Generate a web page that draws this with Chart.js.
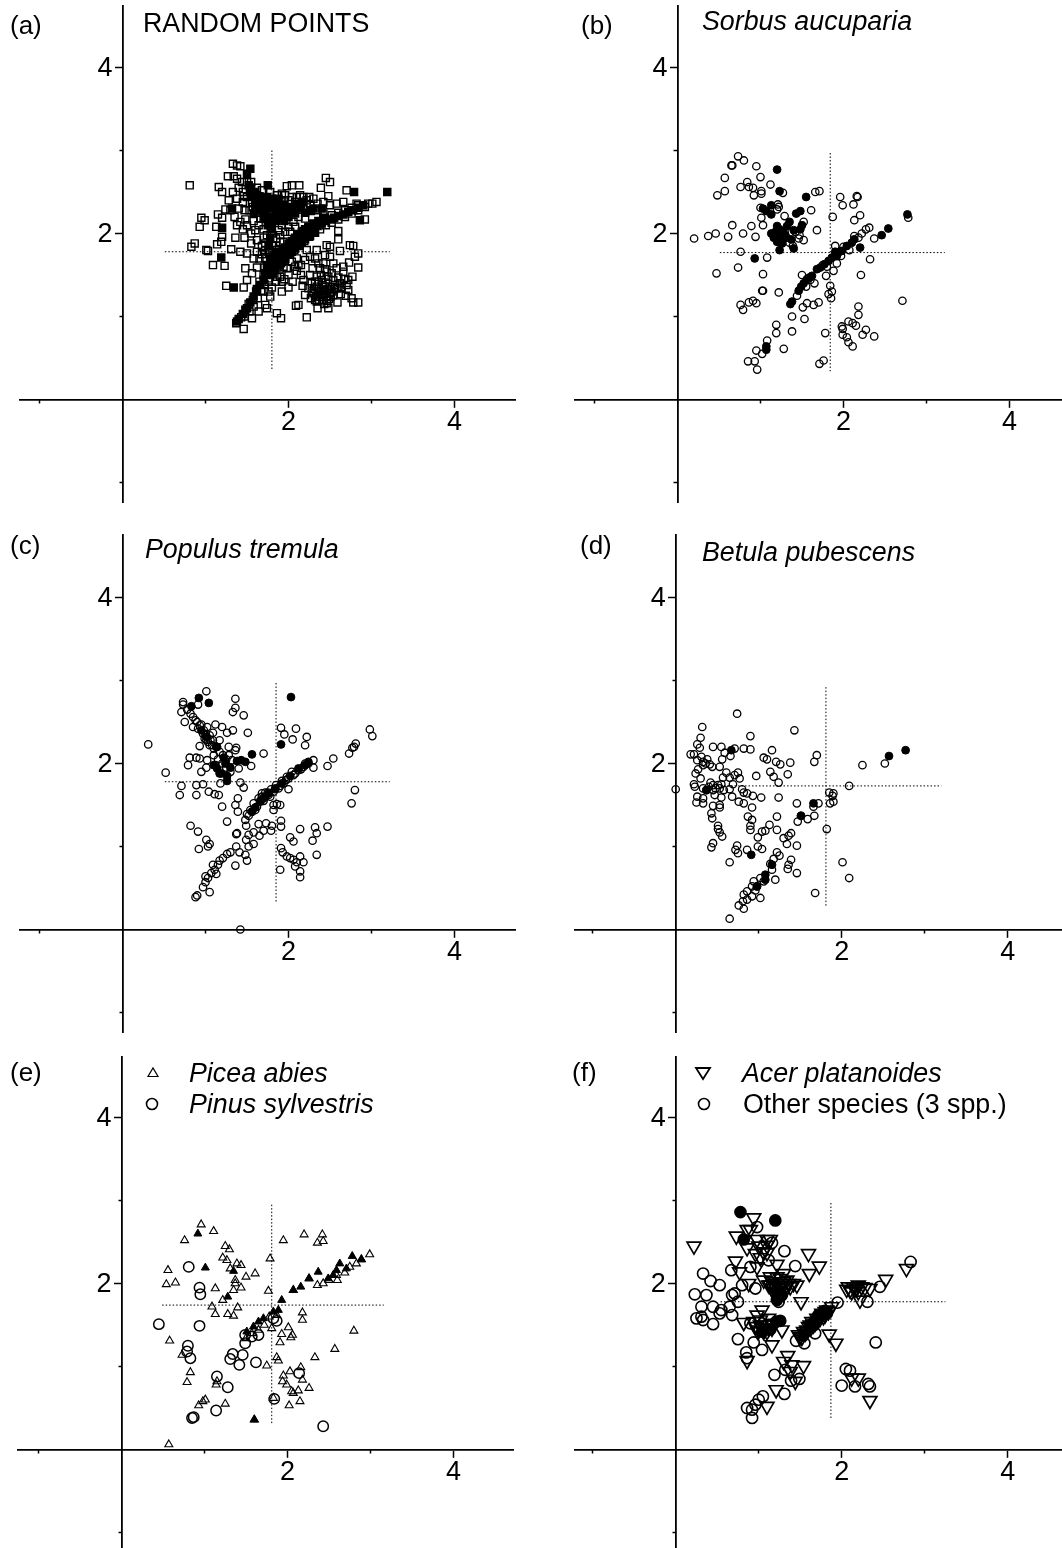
<!DOCTYPE html>
<html><head><meta charset="utf-8">
<script src="https://cdn.jsdelivr.net/npm/chart.js@4/dist/chart.umd.js"></script>
<style>
html,body{margin:0;padding:0;background:#fff;width:1062px;height:1548px;overflow:hidden}
canvas{position:absolute;display:block}
.t{position:absolute;font-family:"Liberation Sans",Arial,sans-serif;color:#000;white-space:nowrap;line-height:1}
.i{font-style:italic}
svg{position:absolute}
</style></head><body>
<script>
const majorTicks=[2,4];
const minorTicksX=[-1,1,3];
const minorTicksY=[-1,1,3];

const aOpen=[[.81,2.58],[1.33,2.84],[1.38,2.82],[1.42,2.81],[1.27,2.69],[1.34,2.69],[1.38,2.66],[1.16,2.56],[1.2,2.5],[1.28,2.4],[1.24,2.29],[1.15,2.23],[1.2,2.19],[.95,2.19],[.99,2.16],[.93,2.08],[1.13,2.08],[1.2,1.96],[1.19,1.9],[1.14,1.87],[.87,1.88],[.83,1.84],[1.01,1.8],[1.03,1.79],[1.09,1.62],[1.23,1.61],[1.31,1.81],[1.36,1.95],[1.47,1.95],[1.55,1.88],[1.42,1.78],[1.5,1.76],[1.48,1.58],[1.62,1.59],[1.71,1.59],[1.56,1.52],[1.5,1.44],[1.25,1.37],[1.46,1.35],[1.62,1.33],[1.98,2.57],[2.04,2.58],[2.13,2.58],[2.45,2.67],[2.5,2.62],[2.39,2.55],[2.7,2.52],[2.48,2.45],[2.18,2.44],[1.96,2.46],[2.22,2.4],[2.66,2.38],[2.82,2.36],[2.92,2.17],[2.6,2.03],[2.6,1.93],[2.62,1.79],[2.74,1.86],[2.78,1.85],[2.84,1.76],[2.8,1.72],[2.73,1.65],[2.84,1.59],[2.77,1.48],[2.7,1.38],[2.72,1.32],[2.76,1.22],[2.84,1.17],[2.78,1.17],[2.59,1.17],[2.48,1.1],[2.35,1.1],[2.22,.99],[2.12,1.14],[2.09,1.13],[2.2,1.26],[1.86,1.04],[1.91,.98],[1.46,.85],[1.56,.98],[1.64,1.06],[1.74,1.1],[1.72,1.14],[1.78,1.24],
[2.46,1.86],[2.5,1.84],[2.44,1.74],[2.5,1.72],[2.54,1.64],[2.42,1.64],[2.38,1.58],[2.46,1.54],[2.58,1.58],[2.66,1.6],[2.34,1.48],[2.4,1.44],[2.48,1.48],[2.54,1.44],[2.66,1.54],[2.62,1.4],[2.28,1.4],[2.34,1.36],[2.42,1.36],[2.5,1.36],[2.58,1.34],[2.3,1.28],[2.38,1.24],[2.46,1.24],[2.54,1.26],[2.34,1.18],[2.46,1.16],[2.18,1.44],[2.26,1.5],[2.32,1.7],[2.26,1.72],[2.34,1.8],[2.37,1.33],[2.43,1.31],[2.31,1.33],[2.36,1.42],[2.45,1.41],[2.52,1.3],[2.41,1.2],[2.33,1.24],[2.49,1.21],[2.39,1.5],[2.44,1.57],[2.52,1.52],[2.6,1.47],[2.56,1.38],[2.29,1.58],[2.36,1.64],[2.24,1.34],[2.17,1.37],[2.67,1.45],[2.72,1.44],[2.63,1.27],[2.69,1.25],
[2.39,1.3],[2.35,1.27],[2.44,1.27],[2.48,1.33],[2.41,1.38],[2.32,1.42],[2.37,1.2],[2.47,1.19],[2.51,1.24],[2.28,1.3],[2.4,1.26],[2.44,1.36],[2.36,1.3],[2.5,1.28],[2.55,1.33],[2.32,1.2],[2.43,1.15],[2.27,1.22],[2.6,1.36],[2.64,1.34],
[1.37,.92],[1.43,.99],[1.47,1.0],[1.53,1.06],[1.52,1.15],[1.58,1.12],[1.57,1.2],[1.63,1.22],[1.61,1.3],[1.67,1.31],[1.65,1.42],[1.71,1.39],[1.7,1.5],[1.76,1.46],[1.75,1.56],[1.81,1.52],[1.8,1.63],[1.86,1.59],[1.85,1.71],[1.91,1.64],[1.9,1.76],[1.96,1.69],[1.96,1.81],[2.02,1.76],[2.01,1.88],[2.07,1.8],[2.07,1.93],[2.13,1.85],[2.12,1.99],[2.19,1.91],[2.18,2.03],[2.25,1.96],[2.24,2.07],[2.31,2.01],[2.3,2.11],[2.38,2.05],[2.37,2.14],[2.45,2.1],[2.44,2.19],[2.52,2.13],[2.52,2.22],[2.6,2.17],[2.6,2.25],[2.68,2.2],[2.68,2.28],[2.76,2.24],[2.76,2.31],[2.84,2.28],[2.84,2.34],[2.92,2.32],[2.96,2.36],[3.01,2.36],[3.06,2.38],
[1.9,1.48],[1.95,1.45],[2.0,1.5],[2.05,1.42],[2.1,1.55],[2.0,1.35],[1.92,1.3],[1.85,1.42],[1.8,1.35],[1.76,1.42],[2.15,1.62],[2.2,1.68],[2.1,1.7],[2.22,1.8],[2.15,1.5],
[1.72,1.8],[1.78,1.76],[1.72,1.88],[1.8,1.86],[1.85,1.85],[1.72,1.7],[1.78,1.68],[1.85,1.94],[1.68,1.85],[1.62,1.78],[1.65,1.7],[1.58,1.7],[1.7,1.95],[1.62,1.92],[1.6,2.04],[1.55,2.0],[1.5,2.1],[1.48,2.17],[1.42,2.14],[1.45,2.05],[1.38,2.1],[1.35,2.2],[1.3,2.28],[1.4,2.3],[1.45,2.38],[1.38,2.42],[1.33,2.5],[1.4,2.55],[1.45,2.5],[1.5,2.44],[1.5,2.62],[1.44,2.62],[1.55,2.62],[1.62,2.55],[1.68,2.52],[1.78,2.5],[1.86,2.46],[1.95,2.4],[2.04,2.44],[2.1,2.44],[2.16,2.38],[2.26,2.34],[2.3,2.42],[2.35,2.36],[2.42,2.38],[2.5,2.34],[2.58,2.36],[2.27,2.27],[2.2,2.18],[2.12,2.2],[2.06,2.14],[2.0,2.08],[1.92,2.1],[1.88,2.04],[1.9,1.98],[1.8,2.0],
[1.74,1.98],[1.76,1.78],[1.82,1.74],[1.68,1.75],[1.7,2.05],[1.64,2.1],[1.58,2.15],[1.53,2.28],[1.57,2.32],[1.47,2.28],[1.62,2.25],[1.66,2.18],[1.92,2.48],[2.0,2.4],[2.08,2.38],[2.14,2.46],[2.25,2.44],[2.35,2.28],[2.42,2.24],[2.08,2.08],[2.02,2.02],[1.96,2.02],[1.46,2.45],[1.56,2.38],[1.86,1.8],[1.9,1.9],[1.94,1.9],[1.83,1.52],[1.88,1.56],[2.04,1.66],[2.08,1.6],[2.12,1.62],[1.98,1.58],[1.94,1.6],[1.86,1.48],[1.92,1.42],[1.7,1.3],[1.76,1.3]];
const aFilled=[[1.54,2.78],[1.75,2.58],[3.19,2.5],[2.79,2.5],[1.2,2.07],[1.19,1.71],[1.34,1.35],[1.38,.94],[1.48,1.08],[2.86,2.16],[1.32,2.3],[1.52,2.58],[1.5,2.72],
[1.4,.97],[1.45,1.03],[1.5,1.1],[1.54,1.17],[1.58,1.24],[1.62,1.32],[1.66,1.38],[1.7,1.44],[1.74,1.5],[1.78,1.55],[1.82,1.6],[1.86,1.65],[1.9,1.69],[1.94,1.74],[1.98,1.78],[2.02,1.82],[2.06,1.86],[2.1,1.9],[2.14,1.94],[2.18,1.97],[2.22,2.0],[2.26,2.03],[2.3,2.06],[2.35,2.09],[2.4,2.12],[2.45,2.15],[2.5,2.17],[2.55,2.19],[2.6,2.21],[2.66,2.23],[2.72,2.26],[2.78,2.28],[2.84,2.31],[2.9,2.34],
[1.72,1.52],[1.76,1.58],[1.8,1.64],[1.84,1.68],[1.88,1.73],[1.92,1.78],[1.96,1.83],[2.0,1.87],[2.04,1.91],[2.08,1.95],[2.12,1.99],[2.16,2.02],[2.2,2.05],[2.24,2.08],[2.3,2.12],[2.36,2.15],[2.42,2.18],[1.8,1.52],[1.84,1.58],[1.88,1.62],[1.92,1.66],[1.96,1.7],[2.0,1.75],[2.04,1.78],[2.08,1.82],[2.12,1.86],[2.16,1.89],[2.2,1.93],[2.26,1.97],[2.32,2.01],[1.74,1.62],[1.78,1.68],[1.82,1.72],[1.86,1.78],
[1.55,2.45],[1.6,2.4],[1.65,2.45],[1.7,2.4],[1.75,2.35],[1.8,2.3],[1.85,2.35],[1.9,2.3],[1.95,2.25],[2.0,2.2],[1.7,2.3],[1.75,2.2],[1.8,2.2],[1.85,2.15],[1.9,2.2],[1.75,2.1],[1.8,2.05],[1.72,2.25],[1.65,2.35],[1.6,2.5],[2.05,2.3],[2.1,2.35],[2.15,2.3],[2.2,2.25],[1.95,2.35],[1.78,1.95],[1.76,1.85],[1.55,2.55],[2.0,2.32],[1.85,2.25],[1.95,2.15],[1.7,2.18],[1.8,2.42],[2.3,2.3],[2.4,2.3],
[1.6,2.32],[1.66,2.28],[1.74,2.44],[1.88,2.42],[2.02,2.26],[2.08,2.24],[2.26,2.28],[2.18,2.38],[1.58,2.24]];
const aVLine=[[1.8,3.0],[1.8,.36]];
const aHLine=[[.51,1.78],[3.22,1.78]];

const bOpen=[[.73,2.93],[.8,2.88],[.65,2.82],[.66,2.82],[.95,2.81],[.57,2.67],[1,2.68],[.84,2.62],[1.12,2.59],[.76,2.56],[.86,2.56],[.91,2.55],[.57,2.51],[.48,2.46],[.92,2.46],[1.01,2.51],[1.01,2.48],[1.27,2.49],[1.66,2.5],[1.71,2.51],[1.96,2.44],[1.99,2.34],[2.12,2.35],[2.16,2.45],[2.17,2.44],[1,2.31],[1.21,2.35],[1.2,2.29],[1.61,2.28],[2.2,2.22],[1.87,2.2],[2.13,2.16],[1.01,2.19],[1.29,2.21],[.66,2.1],[.89,2.09],[1.03,2.1],[1.52,2.14],[.46,2],[.37,1.97],[.2,1.94],[.61,1.96],[.79,2],[.94,1.96],[1.68,2.04],[1.52,1.92],[1.46,1.94],[2.31,2.07],[2.27,2.05],[2.22,2],[2.37,1.94],[1.9,1.85],[.76,1.78],[1.08,1.71],[2.32,1.69],[.73,1.59],[.47,1.52],[1.03,1.51],[1.5,1.5],[2.21,1.5],[1.02,1.31],[1.22,1.29],[.76,1.14],[.86,1.17],[.79,1.08],[.91,1.19],[.95,1.16],[2.71,1.19],[1.56,1.16],[1.64,1.14],[1.7,1.17],[1.51,1.11],[2.18,1.12],[2.18,1.02],[1.38,1],[1.53,.97],[1.19,.9],[2.06,.94],[2.11,.92],[2.15,.89],[1.98,.88],[1.99,.85],[2.27,.84],[1.19,.8],[1.38,.82],[1.78,.8],[1.99,.78],[2.23,.78],[2.37,.76],[2.04,.75],[2.06,.69],[2.11,.64],[1.08,.71],[.95,.59],[1.28,.61],[1.02,.55],[.85,.46],[.93,.46],[.96,.36],[1.71,.43],[1.76,.47],[1.84,1.37],[1.82,1.27],[1.86,1.3],[1.85,1.22],[1.44,1.25],[1.65,1.4],[1.79,1.49],[1.88,1.55],[2.78,2.19],[1.03,1.31],[1.22,2.32],[1.29,2.02],[1.31,1.95],[1.35,1.89],[1.39,1.85],[1.47,1.98],[1.42,2.02],[1.97,1.73],[2.0,1.84],[2.07,1.8],[2.18,1.95],[2.13,1.97],[1.55,1.36],[1.6,1.44],[1.75,1.62],[1.8,1.6],[1.92,1.64],[1.93,1.76]];
const bFilled=[[1.2,2.77],[1.23,2.51],[1.55,2.44],[2.77,2.23],[2.54,2.06],[2.46,1.98],[.93,1.7],[1.03,2.3],[1.07,2.27],[1.13,2.34],[1.13,2.23],[1.43,2.24],[1.48,2.27],[1.2,2.09],[1.35,2.14],[1.23,2.05],[1.5,2.1],[1.4,2.04],[1.48,2.05],[1.13,2],[1.16,1.95],[1.22,1.98],[1.28,1.95],[1.2,1.9],[1.26,1.88],[1.23,1.8],[1.4,1.82],[1.37,1.93],[1.32,2.09],[1.07,.64],[1.07,.6],[2.2,1.83],[1.36,1.15],[1.38,1.18],[1.46,1.31],[1.52,1.4],[1.56,1.45],[1.62,1.49],[1.68,1.57],[1.72,1.59],[1.82,1.67],[1.86,1.71],[1.92,1.73],[1.98,1.79],[2.04,1.85],[2.1,1.89],[2.13,1.93],[1.77,1.63],[1.9,1.78],[1.59,1.47],[1.49,1.36],[1.27,2.03],[1.3,1.98],[1.18,2.02]];
const bVLine=[[1.84,2.97],[1.84,.34]];
const bHLine=[[.51,1.77],[3.22,1.77]];

const cOpen=[[1.01,2.87],[.73,2.74],[.73,2.71],[.91,2.71],[.71,2.62],[.78,2.65],[1.36,2.78],[1.36,2.67],[1.33,2.62],[1.46,2.58],[.75,2.5],[.85,2.56],[.93,2.46],[.91,2.42],[.85,2.44],[1.02,2.44],[.97,2.36],[1.05,2.34],[1.12,2.47],[1.2,2.44],[1.26,2.37],[1.33,2.4],[1.51,2.37],[1.09,2.37],[1.01,2.28],[.93,2.21],[1.09,2.28],[1.17,2.28],[1.05,2.22],[1.28,2.2],[1.37,2.19],[1.36,2.16],[1.7,2.12],[.31,2.23],[.52,1.89],[.81,2.07],[.79,1.98],[.89,2.07],[.93,2.06],[1.02,2.04],[1.01,1.95],[.95,1.9],[1.18,1.76],[1.42,1.77],[1.46,1.71],[.71,1.73],[.69,1.62],[.89,1.74],[.97,1.75],[.89,1.62],[1.04,1.66],[1.11,1.63],[1.16,1.62],[1.39,1.58],[1.36,1.5],[1.39,1.42],[1.2,1.48],[1.26,1.3],[.82,1.25],[.91,1.18],[1.01,1.08],[1.03,1],[.92,.97],[1.37,1.15],[1.38,1.16],[1.36,.77],[1.55,1.97],[1.91,2.43],[1.95,2.35],[2.09,2.42],[2.05,2.29],[2.22,2.32],[2.2,2.22],[2.98,2.41],[3.01,2.33],[2.81,2.24],[2.79,2.2],[2.77,2.19],[2.73,2.12],[2.54,2.06],[2.47,1.97],[2.3,2.04],[2.3,1.95],[2.8,1.68],[2.76,1.52],[1.68,1.64],[1.48,1.32],[1.52,1.37],[1.56,1.42],[1.62,1.48],[1.66,1.54],[1.7,1.58],[1.76,1.62],[1.82,1.66],[1.88,1.7],[1.94,1.76],[2,1.82],[2.06,1.86],[2.12,1.92],[2.18,1.96],[2.24,2],[1.82,1.5],[1.86,1.51],[1.9,1.5],[1.82,1.44],[2,1.69],[1.91,1.31],[1.91,1.24],[1.8,1.25],[1.79,1.19],[1.73,1.28],[1.7,1.19],[1.64,1.27],[1.65,1.13],[1.58,1.17],[1.49,1.25],[1.52,1.14],[1.49,1.08],[1.58,1.03],[1.52,1],[1.48,.9],[1.5,.83],[1.41,.93],[1.37,1],[.88,.39],[.9,.41],[.97,.51],[1.05,.45],[1,.57],[1.03,.62],[1.07,.68],[1.13,.67],[1.11,.72],[1.15,.78],[1.17,.83],[1.21,.86],[1.26,.91],[1.3,.93],[1.91,.98],[1.93,.93],[1.98,.88],[2.02,.86],[1.9,.72],[2.06,.84],[2.08,.76],[2.14,.88],[2.18,.81],[2.14,.7],[2.14,.63],[2.1,.81],[2.02,1.11],[2.06,1.06],[2.14,1.21],[2.32,1.23],[2.34,1.16],[2.29,1.07],[2.47,1.24],[2.34,.9],[1.42,0],[1.58,1.52],[1.64,1.58],[1.72,1.65],[1.79,1.69],[1.85,1.74],[1.92,1.79],[1.98,1.84],[2.04,1.9],[1.54,1.44],[1.68,1.6],[1.2,2.0],[1.15,2.05],[1.1,2.1],[1.28,2.1],[1.32,2.04],[1.25,1.95],[1.3,1.9],[1.12,1.98],[1.4,1.94],[1.05,1.03],[1.09,.78],[1.0,.64],[.82,2.6],[.88,2.52],[.98,2.4],[1.0,2.34],[1.06,2.28],[1.13,2.2],[1.17,2.14],[1.21,2.1],[1.1,2.18],[1.25,2.05],[.95,2.47],[.99,2.3],[1.03,2.26],[.9,2.5],[1.08,2.22],[2.08,1.88],[2.15,1.93],[2.2,2.0],[1.75,1.65],[1.6,1.44],[1.5,1.39],[1.97,1.8],[1.9,1.73],[1.84,1.69],[1.78,1.6],[1.7,1.55]];
const cFilled=[[.92,2.79],[1.04,2.73],[.83,2.69],[2.03,2.8],[1.91,2.23],[1.56,2.11],[1.26,1.79],[1.14,1.94],[1.17,1.88],[1.3,1.95],[1.38,2.03],[1.48,2.02],[1.19,1.88],[1.14,2.2],[.95,2.4],[1.01,2.32],[1.24,2.0],[1.1,1.98],[1.43,2.04],[1.26,1.85],[1.22,2.07],[2.24,2.02],[2.2,1.98],[2.12,1.94],[1.76,1.64],[1.66,1.55],[1.92,1.76],[2.02,1.85],[1.84,1.7],[1.6,1.47],[1.72,1.6],[1.56,1.42]];
const cVLine=[[1.85,2.97],[1.85,.33]];
const cHLine=[[.51,1.78],[3.22,1.78]];

const dOpen=[[.74,2.6],[1.43,2.4],[.32,2.44],[.3,2.31],[.9,2.33],[.26,2.23],[.29,2.19],[.45,2.2],[.55,2.2],[.59,2.13],[.71,2.18],[.66,2.09],[.82,2.18],[.9,2.17],[1.16,2.16],[.18,2.11],[.22,2.11],[1.7,2.1],[1.67,2.02],[1.06,2.07],[1.1,2.05],[1.21,2.02],[1.26,1.99],[1.38,2.01],[.56,2.05],[.31,2.08],[.26,2.04],[.33,2.02],[.41,1.99],[.44,1.96],[.53,1.96],[.33,1.98],[.27,1.93],[.24,1.88],[.3,1.82],[.61,1.89],[.75,1.89],[.57,1.83],[.65,1.83],[.71,1.86],[.77,1.82],[.69,1.75],[.97,1.85],[1.14,1.9],[1.18,1.84],[1.24,1.77],[1.35,1.87],[2.25,1.98],[2.52,2],[2.09,1.73],[0,1.69],[.22,1.75],[.23,1.72],[.33,1.7],[.37,1.68],[.45,1.74],[.51,1.74],[.45,1.68],[.53,1.7],[.58,1.68],[.47,1.62],[.55,1.59],[.65,1.69],[.8,1.69],[.82,1.65],[.86,1.64],[.93,1.61],[1.03,1.59],[1.24,1.59],[.68,1.6],[.76,1.54],[.82,1.52],[.92,1.47],[.26,1.6],[.33,1.58],[.25,1.53],[.33,1.52],[.45,1.49],[.53,1.5],[.53,1.47],[.43,1.4],[.44,1.34],[.51,1.25],[.51,1.21],[.53,1.17],[.56,1.12],[.45,1.04],[.43,.99],[.72,.96],[.74,1.01],[.75,.92],[.86,.96],[.65,.81],[.87,1.36],[.92,1.32],[.9,1.25],[.9,1.2],[1.13,1.26],[1.22,1.36],[1.22,1.2],[1.04,1.18],[1.08,1.19],[.99,1.11],[.99,1],[1.04,.97],[1.3,1.1],[1.39,1.16],[1.36,1.13],[1.34,1.03],[1.46,1.01],[1.46,1.52],[1.66,1.48],[1.72,1.52],[1.67,1.37],[1.47,1.3],[1.59,1.33],[1.51,1.37],[1.85,1.65],[1.9,1.64],[1.89,1.61],[1.9,1.54],[1.86,1.52],[1.82,1.21],[2.01,.81],[2.09,.62],[1.68,.44],[.65,.13],[1.22,.93],[1.25,.89],[1.14,.79],[1.18,.85],[1.39,.84],[1.36,.78],[1.35,.73],[1.46,.68],[1.2,.6],[1.02,.38],[1.16,.72],[1.02,.62],[.94,.58],[.92,.52],[.86,.46],[.82,.42],[.92,.4],[.86,.36],[.81,.34],[.76,.29],[.82,.25],[1.06,.58],[.98,.52],[.96,.47],[.38,2.05],[.4,1.72],[.48,1.7],[.42,1.77],[.55,1.75],[.36,2.0]];
const dFilled=[[2.77,2.16],[2.57,2.09],[.67,2.16],[1.66,1.52],[1.51,1.37],[.91,.9],[1.16,.78],[1.08,.66],[1.08,.6],[.98,.52],[.37,1.68]];
const dVLine=[[1.81,2.92],[1.81,.28]];
const dHLine=[[.54,1.73],[3.2,1.73]];

const eTriOpen=[[.96,2.71],[1.11,2.63],[.76,2.52],[1.25,2.45],[1.3,2.41],[1.22,2.31],[1.27,2.28],[1.39,2.24],[1.44,2.22],[1.31,2.18],[1.5,2.08],[1.61,2.12],[1.37,2.04],[1.37,2],[1.44,1.95],[1.35,1.92],[1.13,1.94],[.56,2.16],[.54,1.99],[.65,2.01],[1.79,2.3],[1.77,1.91],[1.22,1.8],[1.09,1.72],[1.4,1.71],[1.13,1.63],[1.28,1.63],[1.35,1.61],[1.95,2.52],[2.2,2.59],[2.42,2.59],[2.43,2.51],[2.36,2.49],[2.99,2.35],[2.89,2.29],[2.83,2.24],[2.75,2.2],[2.69,2.13],[2.59,2.1],[2.6,2.04],[2.5,2.04],[2.43,2],[2.36,1.98],[2.26,2.06],[2.07,1.92],[2.18,1.65],[2.18,1.56],[2.8,1.43],[2.57,1.21],[2.33,1.11],[2.01,1.47],[1.93,1.39],[2.06,1.38],[2.04,1.35],[1.91,1.29],[1.81,1.46],[.58,1.31],[.73,1.14],[.83,.93],[.79,.81],[1.75,1.01],[1.87,1.11],[1.89,1.07],[2.16,.99],[2.03,.94],[1.95,.89],[1.94,.82],[1.99,.78],[2.18,.84],[2.26,.74],[2.13,.71],[2.05,.7],[2.07,.68],[2.15,.58],[2.02,.53],[1.83,.62],[1.25,.55],[1.15,.82],[1.14,.78],[1.01,.6],[.98,.58],[.93,.53],[.57,.06],[1.6,.36],[1.72,1.5],[1.65,1.44],[1.78,1.6],[1.87,1.62],[1.57,1.4],[1.5,1.34]];
const eTriFilled=[[.92,2.6],[1.01,2.19],[1.35,2.15],[1.28,1.84],[1.93,1.8],[2.16,1.96],[2.37,2.14],[2.49,2.06],[2.59,2.16],[2.63,2.24],[2.78,2.33],[2.89,2.29],[2.71,2.18],[1.6,.36],[1.83,1.66],[1.89,1.68],[1.65,1.54],[1.71,1.58],[1.59,1.48],[1.51,1.42],[2.07,1.92],[2.26,2.06],[2.55,2.1]];
const eCircle=[[.81,2.2],[.94,1.95],[.95,1.87],[.45,1.51],[.94,1.49],[.8,1.25],[.79,1.18],[.83,1.1],[1.15,.88],[1.28,.75],[1.14,.47],[.87,.39],[.85,.38],[1.84,.61],[2.43,.28],[2.14,.92],[1.62,1.05],[1.42,1.02],[1.46,1.14],[1.31,1.09],[1.34,1.15],[1.49,1.28],[1.49,1.38],[1.57,1.36],[1.65,1.38],[1.87,1.55],[1.83,1.58]];
const eVLine=[[1.81,2.95],[1.81,.31]];
const eHLine=[[.49,1.74],[3.16,1.74]];

const fTriOpen=[[.22,2.45],[.94,2.79],[.86,2.65],[.73,2.57],[.9,2.65],[.98,2.53],[.86,2.43],[1.1,2.53],[1.14,2.53],[1,2.45],[1.1,2.37],[1.02,2.31],[.72,2.27],[.77,2.14],[.98,2.2],[1.22,2.23],[1.3,2.12],[1.22,2.08],[1.14,2.08],[1.06,2.04],[.88,2],[1.12,1.98],[1.22,2],[1.34,2.04],[1.46,1.98],[1.38,1.96],[1.22,1.9],[1.18,1.94],[1.26,1.92],[1.6,2.36],[1.73,2.21],[1.61,2.12],[1.51,1.78],[1.04,1.68],[.98,1.62],[.82,1.53],[.94,1.54],[1.02,1.56],[1.12,1.58],[.99,1.42],[1.1,1.42],[1.16,1.26],[1.28,1.44],[1.85,1.39],[1.93,1.28],[.86,1.07],[1.35,1.13],[1.3,1.06],[1.54,1.01],[1.4,1.02],[1.38,.94],[1.44,.82],[1.21,.72],[1.1,.52],[2.1,1.92],[2.14,1.96],[2.24,1.96],[2.34,1.94],[2.22,1.8],[2.53,2.05],[2.78,2.18],[2.2,.86],[2.34,.59],[2.12,.86],[1.48,1.38],[1.54,1.42],[1.6,1.48],[1.64,1.54],[1.7,1.58],[1.76,1.64],[1.82,1.68],[1.88,1.72],[1.52,1.35],[1.58,1.42],[1.63,1.47],[1.68,1.52],[1.74,1.58],[1.8,1.62],[2.16,1.93],[2.2,1.9],[2.06,1.93],[1.04,1.46],[1.08,1.5],[1.16,1.46],[1.15,1.52],[1.02,1.5],[1.18,1.9],[1.28,1.98],[1.16,2.02],[1.26,2.06],[1.1,2.46],[.96,2.36],[1.06,2.38],[1.32,1.96],[1.24,1.84],[1.3,1.88],[1.2,1.86],[1.42,2.0],[1.5,1.36],[1.56,1.4],[1.66,1.5],[1.72,1.56],[1.78,1.6],[1.84,1.66],[2.12,1.9],[2.18,1.94],[2.28,1.95],[.96,1.48],[1.06,1.42],[1.12,1.46],[1.18,1.5],[1.24,1.94],[1.3,2.02],[1.2,1.96],[1.36,2.0],[1.14,1.98],[1.58,1.44],[1.62,1.5],[1.7,1.54],[1.8,1.66],[2.08,1.96],[2.2,1.98],[1.0,1.44],[1.08,1.46]];
const fCircle=[[.33,2.12],[.42,2.03],[.53,1.98],[.23,1.87],[.37,1.86],[.31,1.72],[.45,1.72],[.55,1.68],[.25,1.58],[.33,1.56],[.45,1.51],[.68,1.62],[.65,1.72],[.75,1.78],[.68,1.86],[.71,1.88],[.53,1.64],[.31,1.6],[.67,2.16],[.9,2.2],[.8,1.98],[.96,1.94],[.98,2.68],[1.16,2.49],[1.31,2.39],[1.44,2.21],[1.12,2.28],[.9,1.52],[.75,1.33],[.94,1.29],[1.04,1.2],[.85,1.17],[.86,1.1],[1.45,1.31],[1.55,1.28],[1.68,1.4],[1.95,1.77],[1.82,1.64],[2.31,1.78],[2.46,1.96],[2.83,2.26],[2.41,1.29],[2.05,.97],[2.1,.95],[2,.77],[2.16,.76],[2.32,.79],[2.34,.76],[1.19,.9],[1.31,.67],[1.32,.96],[1.39,.83],[1.49,.85],[.86,.5],[.92,.48],[.96,.54],[1,.6],[1.05,.64],[.92,.38],[1.24,1.78]];
const fFilled=[[.78,2.86],[1.2,2.76],[.82,2.53],[1.26,1.55],[1.21,1.54],[1.14,1.45],[1.04,1.42],[1.22,1.8],[1.62,1.5],[1.72,1.62],[1.8,1.67],[1.54,1.38],[1.68,1.54],[1.28,1.86],[1.22,1.9]];
const fVLine=[[1.87,2.97],[1.87,.36]];
const fHLine=[[.54,1.78],[3.25,1.78]];

const UNIT=83;
const panels=[
 {id:'a',ax:122.5,ay:399.5,l:19,t:5,r:516,b:503},
 {id:'b',ax:677.5,ay:399.5,l:574,t:5,r:1062,b:503},
 {id:'c',ax:122.5,ay:929.5,l:19,t:534,r:516,b:1033},
 {id:'d',ax:675.7,ay:929.5,l:574,t:534,r:1062,b:1033},
 {id:'e',ax:121.5,ay:1449.5,l:17,t:1056,r:514,b:1548},
 {id:'f',ax:675.7,ay:1449.5,l:574,t:1056,r:1062,b:1548}
];
const pts=a=>a.map(p=>({x:p[0],y:p[1]}));
const mark=(data,style,r,filled,w,rot)=>({data:pts(data),showLine:false,pointStyle:style,pointRadius:r,pointRotation:rot||0,pointBorderWidth:w,pointBorderColor:'#000',pointBackgroundColor:filled?'#000':'rgba(0,0,0,0)',pointHoverRadius:r});
const dot=d=>({data:pts(d),showLine:true,borderColor:'#000',borderWidth:1,borderDash:[1.5,2],pointRadius:0,fill:false});
const sets={
 a:[mark(aOpen,'rect',5,false,1.4),mark(aFilled,'rect',5,true,1.4),dot(aVLine),dot(aHLine)],
 b:[mark(bOpen,'circle',3.7,false,1.3),mark(bFilled,'circle',3.9,true,1),dot(bVLine),dot(bHLine)],
 c:[mark(cOpen,'circle',3.7,false,1.3),mark(cFilled,'circle',3.9,true,1),dot(cVLine),dot(cHLine)],
 d:[mark(dOpen,'circle',3.7,false,1.3),mark(dFilled,'circle',3.9,true,1),dot(dVLine),dot(dHLine)],
 e:[mark(eTriOpen,'triangle',4.6,false,1.1),mark(eTriFilled,'triangle',4.6,true,1),mark(eCircle,'circle',5.2,false,1.5),dot(eVLine),dot(eHLine)],
 f:[mark(fTriOpen,'triangle',8,false,1.7,180),mark(fCircle,'circle',5.6,false,1.6),mark(fFilled,'circle',5.6,true,1.5),dot(fVLine),dot(fHLine)]
};
const setTicks=list=>scale=>{scale.ticks=list.map(v=>({value:v}));};
const noPad=s=>{s.paddingTop=0;s.paddingBottom=0;s.paddingLeft=0;s.paddingRight=0;if(s._margins){s._margins.left=0;s._margins.right=0;s._margins.top=0;s._margins.bottom=0;}};
const tickFont={family:'"Liberation Sans",Arial,sans-serif',size:27};
panels.forEach(p=>{
 const c=document.createElement('canvas');
 const w=p.r-p.l,h=p.b-p.t;
 c.width=w;c.height=h;c.style.left=p.l+'px';c.style.top=p.t+'px';c.style.width=w+'px';c.style.height=h+'px';
 document.body.appendChild(c);
 const xMin=(p.l-p.ax)/UNIT,xMax=(p.r-p.ax)/UNIT,yMax=(p.ay-p.t)/UNIT,yMin=(p.ay-p.b)/UNIT;
 const lim=axis=>axis==='x'?{min:xMin,max:xMax}:{min:yMin,max:yMax};
 const tickAxis=(axis,pos,list,len,labelled)=>({type:'linear',axis,...lim(axis),position:pos,afterBuildTicks:setTicks(list),afterFit:noPad,
   grid:{drawOnChartArea:false,drawTicks:true,tickLength:len,tickWidth:1.5,tickColor:'#000'},border:{display:labelled,color:'#000',width:1.8},
   ticks:{autoSkip:false,maxRotation:0,color:'#000',font:tickFont,padding:0,callback:v=>(labelled&&axis==='x')?String(v):''}});
 new Chart(c,{type:'scatter',data:{datasets:sets[p.id]},options:{responsive:false,animation:false,devicePixelRatio:1,
   layout:{padding:0,autoPadding:false},plugins:{legend:{display:false},tooltip:{enabled:false}},events:[],
   scales:{x:tickAxis('x',{y:0},majorTicks,7,true),y:tickAxis('y',{x:0},majorTicks,7,true),
     xm:tickAxis('x',{y:0},minorTicksX,3.5,false),ym:tickAxis('y',{x:0},minorTicksY,3.5,false),
     yl:{type:'linear',axis:'y',...lim('y'),position:{x:-0.12},afterBuildTicks:setTicks(majorTicks),afterFit:noPad,
       grid:{display:false,drawTicks:false},border:{display:false},
       ticks:{autoSkip:false,color:'#000',font:tickFont,padding:0,labelOffset:1.5,callback:v=>String(v)}}}}});
});
const texts=[
 ['(a)',10,12,26,0],['(b)',581,12,26,0],['(c)',10,532,26,0],['(d)',580,532,26,0],['(e)',10,1059,26,0],['(f)',572,1059,26,0],
 ['RANDOM POINTS',143,10,26.8,0],['Sorbus aucuparia',702,8,26.8,1],['Populus tremula',145,536,26.8,1],['Betula pubescens',702,539,26.8,1],
 ['Picea abies',189,1060,26.8,1],['Pinus sylvestris',189,1091,26.8,1],['Acer platanoides',742,1060,26.8,1],['Other species (3 spp.)',743,1091,26.8,0]
];
texts.forEach(t=>{const s=document.createElement('div');s.className='t'+(t[4]?' i':'');s.textContent=t[0];s.style.left=t[1]+'px';s.style.top=t[2]+'px';s.style.fontSize=t[3]+'px';document.body.appendChild(s);});
const svg='http://www.w3.org/2000/svg';
const legendMarks=[
 '<polygon points="148,1076.5 158,1076.5 153,1068" fill="none" stroke="#000" stroke-width="1.2"/>',
 '<circle cx="152" cy="1104" r="5.5" fill="none" stroke="#000" stroke-width="1.6"/>',
 '<polygon points="696,1068 710,1068 703,1079" fill="none" stroke="#000" stroke-width="1.8"/>',
 '<circle cx="704" cy="1104" r="5.5" fill="none" stroke="#000" stroke-width="1.6"/>'
];
const sv=document.createElement('div');sv.innerHTML='<svg xmlns="'+svg+'" width="1062" height="1548" style="left:0;top:0">'+legendMarks.join('')+'</svg>';document.body.appendChild(sv);
</script>
</body></html>
